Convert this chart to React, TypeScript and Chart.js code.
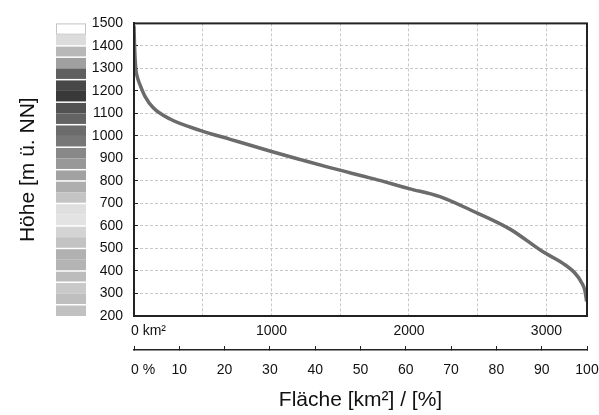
import React, { useEffect, useRef } from "react";
import { Chart, registerables } from "chart.js";

Chart.register(...registerables);

// Hypsometric curve: area (km²) below a given height (m ü. NN)
const areaKm = [0, 4, 12, 24, 44, 80, 140, 262, 480, 700, 1000, 1210, 1425, 1745, 2000, 2225, 2444, 2735, 2975, 3120, 3207, 3256, 3280, 3292];
const heightM = [1490, 1400, 1306, 1262, 1227, 1176, 1125, 1075, 1025, 985, 931, 895, 859, 809, 766, 730, 672, 586, 485, 434, 391, 348, 312, 265];

const AREA_MAX = 3295;
const HEIGHT_MIN = 200;
const HEIGHT_MAX = 1500;

// Tick values
const kmTicks = [0, 500, 1000, 1500, 2000, 2500, 3000];
const kmLabels = ["", "", "1000", "", "2000", "", "3000"];
const percentTicks = [0, 10, 20, 30, 40, 50, 60, 70, 80, 90, 100];
const percentLabels = ["", "10", "20", "30", "40", "50", "60", "70", "80", "90", "100"];
const heightTicks = [200, 300, 400, 500, 600, 700, 800, 900, 1000, 1100, 1200, 1300, 1400, 1500];

// Colour bar (height bands, top to bottom)
const bandEdges = [1500, 1450, 1400, 1350, 1300, 1250, 1200, 1150, 1100, 1050, 1000, 950, 900, 850, 800, 750, 700, 650, 600, 550, 500, 450, 400, 350, 300, 250, 200];
const bandColors = [
  "#ffffff", "#dcdcdc", "#b8b8b8", "#a0a0a0", "#5f5f5f", "#484848", "#393939", "#525252",
  "#636363", "#6c6c6c", "#777777", "#888888", "#989898", "#a2a2a2", "#aeaeae", "#c4c4c4",
  "#dfdfdf", "#e3e3e3", "#d4d4d4", "#c3c3c3", "#b1b1b1", "#b4b4b4", "#bcbcbc", "#c9c9c9",
  "#bfbfbf", "#c1c1c1",
];
const bandSeparators = [1400, 1350, 1250, 1150, 1050, 950, 850, 800, 700, 600, 500, 400, 350, 250];

const xTitle = "Fläche [km²] / [%]";
const yTitle = "Höhe [m ü. NN]";
const zeroAreaLabel = "0 km²";
const zeroPercentLabel = "0 %";

const FONT = "'Liberation Sans', Arial, Helvetica, sans-serif";

export default function App() {
  const ref = useRef<HTMLCanvasElement>(null);

  useEffect(() => {
    const canvas = ref.current;
    if (!canvas) return;

    const decor = {
      id: "hypsoDecor",
      afterDraw(chart: any) {
        const { ctx, chartArea, scales } = chart;
        const y = scales.y;
        const x = scales.x;
        const x2 = scales.x2;
        ctx.save();
        // colour bar
        const barX = 56;
        const barW = 30;
        for (let i = 0; i < bandColors.length; i++) {
          const t = y.getPixelForValue(bandEdges[i]);
          const b = y.getPixelForValue(bandEdges[i + 1]);
          ctx.fillStyle = bandColors[i];
          ctx.fillRect(barX, t, barW, b - t);
        }
        const t0 = y.getPixelForValue(bandEdges[0]);
        const b0 = y.getPixelForValue(bandEdges[1]);
        ctx.strokeStyle = "#c4c4c4";
        ctx.lineWidth = 1;
        ctx.strokeRect(barX + 0.5, t0 + 0.5, barW - 1, b0 - t0 - 1);
        ctx.strokeStyle = "#ffffff";
        ctx.lineWidth = 1.5;
        for (const s of bandSeparators) {
          const p = y.getPixelForValue(s);
          ctx.beginPath();
          ctx.moveTo(barX, p);
          ctx.lineTo(barX + barW, p);
          ctx.stroke();
        }
        // frame
        ctx.strokeStyle = "#222";
        ctx.lineWidth = 2;
        ctx.strokeRect(chartArea.left, chartArea.top, chartArea.right - chartArea.left, chartArea.bottom - chartArea.top);
        // zero labels
        ctx.fillStyle = "#111";
        ctx.font = `14px ${FONT}`;
        ctx.textAlign = "left";
        ctx.textBaseline = "middle";
        ctx.fillText(zeroAreaLabel, x.getPixelForValue(0) - 3, x.top + 15.4);
        ctx.fillText(zeroPercentLabel, x2.getPixelForValue(0) - 3, x2.top + 20);
        ctx.restore();
      },
    };

    const chart = new Chart(canvas, {
      type: "line",
      data: {
        datasets: [
          {
            data: areaKm.map((a, i) => ({ x: a, y: heightM[i] })),
            borderColor: "#6b6b6b",
            borderWidth: 3.5,
            pointRadius: 0,
            cubicInterpolationMode: "monotone",
            fill: false,
          },
        ],
      },
      options: {
        responsive: false,
        animation: false,
        layout: { padding: { top: 15, right: 12, bottom: 0, left: 0 } },
        plugins: { legend: { display: false }, tooltip: { enabled: false } },
        scales: {
          x: {
            type: "linear",
            position: "bottom",
            weight: 0,
            min: 0,
            max: AREA_MAX,
            afterBuildTicks: (s: any) => {
              s.ticks = kmTicks.map((v) => ({ value: v }));
            },
            ticks: {
              autoSkip: false,
              maxRotation: 0,
              padding: 7,
              color: "#111",
              font: { family: FONT, size: 14 },
              callback: (_v: any, i: number) => kmLabels[i] ?? "",
            },
            grid: { color: "#c8c8c8", lineWidth: 1, drawTicks: false },
            border: { display: true, color: "#222", width: 2, dash: [3, 2] },
            afterFit: (s: any) => {
              s.height = 34;
              s.paddingLeft = 0;
              s.paddingRight = 0;
            },
          },
          x2: {
            type: "linear",
            position: "bottom",
            weight: 1,
            min: 0,
            max: 100,
            afterBuildTicks: (s: any) => {
              s.ticks = percentTicks.map((v) => ({ value: v }));
            },
            ticks: {
              autoSkip: false,
              maxRotation: 0,
              padding: 15.6,
              color: "#111",
              font: { family: FONT, size: 14 },
              callback: (_v: any, i: number) => percentLabels[i] ?? "",
            },
            grid: {
              drawOnChartArea: false,
              drawTicks: true,
              tickLength: -4,
              tickColor: "#222",
              tickWidth: 1,
              tickBorderDash: [],
            },
            border: { display: true, color: "#222", width: 1.5 },
            title: {
              display: true,
              text: xTitle,
              color: "#111",
              font: { family: FONT, size: 21 },
              padding: { top: 0, bottom: 2 },
            },
            afterFit: (s: any) => {
              s.height = 65;
              s.paddingLeft = 0;
              s.paddingRight = 12;
            },
          },
          y: {
            type: "linear",
            position: "left",
            min: HEIGHT_MIN,
            max: HEIGHT_MAX,
            afterBuildTicks: (s: any) => {
              s.ticks = heightTicks.map((v) => ({ value: v }));
            },
            ticks: {
              autoSkip: false,
              padding: 15,
              color: "#111",
              font: { family: FONT, size: 14 },
              callback: (v: any) => String(v),
            },
            grid: {
              color: "#c8c8c8",
              lineWidth: 1,
              tickLength: -4,
              tickColor: "#222",
              tickWidth: 1,
              tickBorderDash: [],
            },
            border: { display: true, color: "#222", width: 2, dash: [3, 2] },
            title: {
              display: true,
              text: yTitle,
              color: "#111",
              font: { family: FONT, size: 21 },
              padding: { top: 16, bottom: 0 },
            },
            afterFit: (s: any) => {
              s.width = 134;
            },
          },
        },
      } as any,
      plugins: [decor],
    });

    return () => chart.destroy();
  }, []);

  return (
    <div style={{ position: "fixed", left: 0, top: 0, width: 599, height: 415, background: "#fff" }}>
      <canvas ref={ref} width={599} height={415} style={{ display: "block" }} />
    </div>
  );
}
